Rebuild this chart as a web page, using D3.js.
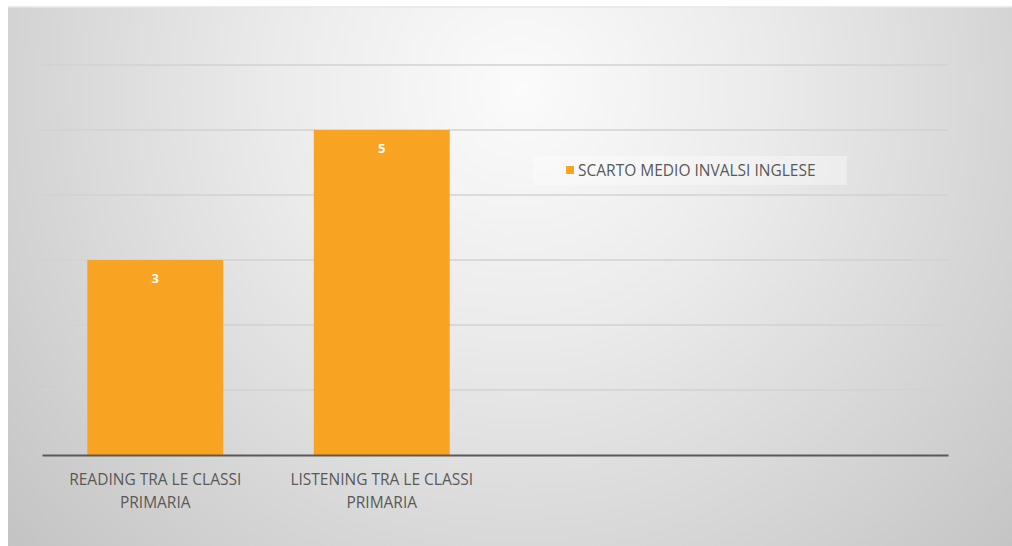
<!DOCTYPE html>
<html><head><meta charset="utf-8">
<script src="https://cdn.jsdelivr.net/npm/d3@7"></script>
<style>html,body{margin:0;padding:0;background:#fff;}svg{display:block;}</style>
</head><body>
<svg id="c" width="1012" height="546"></svg>
<script>
const categories = ["READING TRA LE CLASSI PRIMARIA", "LISTENING TRA LE CLASSI PRIMARIA", "", " "];
const labelLines = [["READING TRA LE CLASSI","PRIMARIA"],["LISTENING TRA LE CLASSI","PRIMARIA"],[],[]];
const values = [3, 5, null, null];
const seriesName = "SCARTO MEDIO INVALSI INGLESE";
const yTicks = [0,1,2,3,4,5,6];

const svg = d3.select("#c");
const defs = svg.append("defs");
const g = defs.append("radialGradient").attr("id","bg")
  .attr("gradientUnits","userSpaceOnUse").attr("cx",520).attr("cy",90).attr("r",700);
g.append("stop").attr("offset","0%").attr("stop-color","#fbfbfb");
g.append("stop").attr("offset","35%").attr("stop-color","#ebebeb");
g.append("stop").attr("offset","100%").attr("stop-color","#c2c2c2");

svg.append("rect").attr("x",8).attr("y",7).attr("width",1004).attr("height",539).attr("fill","url(#bg)");
svg.append("line").attr("x1",8).attr("x2",1012).attr("y1",7).attr("y2",7).attr("stroke","#e6e6e6").attr("stroke-width",1.5);

const x = d3.scaleBand().domain(categories).range([42,948]).paddingInner(0.4).paddingOuter(0.2);
const y = d3.scaleLinear().domain([0,6]).range([455,65]);

// gridlines
svg.append("g").selectAll("line").data(yTicks.filter(t=>t>0)).join("line")
  .attr("x1",42).attr("x2",948).attr("y1",d=>y(d)).attr("y2",d=>y(d))
  .attr("stroke","#d2d2d2").attr("stroke-width",1.5);

const data = categories.map((c,i)=>({c,v:values[i]})).filter(d=>d.v!=null);

// bars
svg.append("g").selectAll("rect").data(data).join("rect")
  .attr("x",d=>x(d.c)).attr("width",x.bandwidth())
  .attr("y",d=>y(d.v)).attr("height",d=>y(0)-y(d.v))
  .attr("fill","#f8a322");

// bar labels
svg.append("g").selectAll("text").data(data).join("text")
  .attr("x",d=>x(d.c)+x.bandwidth()/2).attr("y",d=>y(d.v)+23)
  .attr("text-anchor","middle").attr("fill","#ffffff")
  .attr("font-family","Open Sans, sans-serif").attr("font-weight","bold").attr("font-size",13)
  .text(d=>d.v);

// x axis
const xAxis = d3.axisBottom(x).tickSize(0).tickFormat("");
const ax = svg.append("g").attr("transform",`translate(0,${y(0)})`).call(xAxis);
ax.select(".domain").attr("stroke","#595959").attr("stroke-width",2);

// category labels
const lab = svg.append("g");
categories.forEach((c,i)=>{
  const t = lab.append("text").attr("text-anchor","middle")
    .attr("font-family","Open Sans, sans-serif").attr("font-size",15.5).attr("fill","#595959");
  labelLines[i].forEach((ln,j)=>{
    t.append("tspan").attr("x",x(c)+x.bandwidth()/2).attr("y",485+j*23).text(ln);
  });
});

// legend
const lg = svg.append("g");
lg.append("rect").attr("x",533).attr("y",156).attr("width",314).attr("height",29).attr("fill","#ffffff").attr("opacity",0.35);
lg.append("rect").attr("x",566).attr("y",166).attr("width",8).attr("height",8).attr("fill","#f8a322");
lg.append("text").attr("x",578).attr("y",176)
  .attr("font-family","Open Sans, sans-serif").attr("font-size",15.5).attr("fill","#595959")
  .text(seriesName);
</script>
</body></html>
